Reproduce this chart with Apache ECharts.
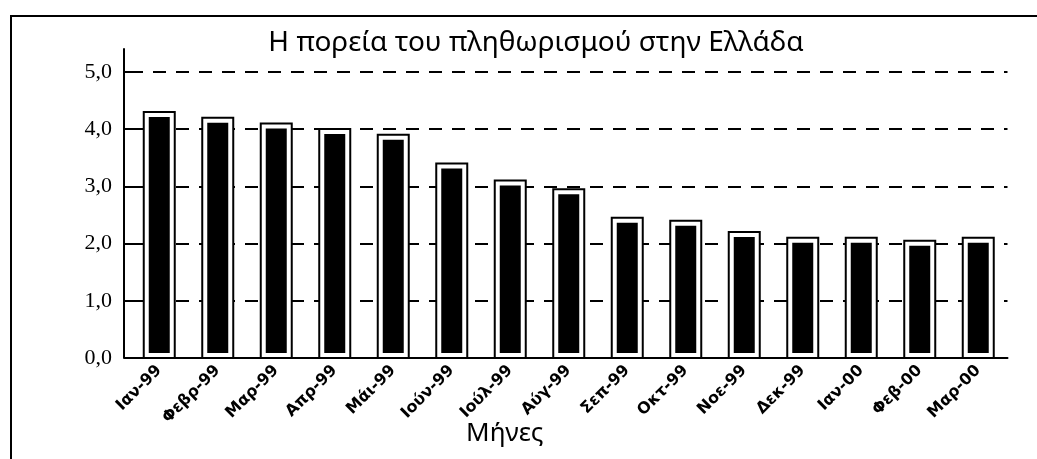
<!DOCTYPE html>
<html>
<head>
<meta charset="utf-8">
<script src="https://cdn.jsdelivr.net/npm/echarts@6/dist/echarts.min.js"></script>
<style>
  html, body { margin: 0; padding: 0; background: #fff; }
  #frame {
    position: absolute; left: 10px; top: 15px; right: 0; bottom: 0;
    border-top: 2px solid #000; border-left: 2px solid #000;
  }
  #chart { position: absolute; left: 0; top: 0; width: 1037px; height: 459px; }
</style>
</head>
<body>
<div id="frame"></div>
<div id="chart"></div>
<script>
// μήνες
const months = ["Ιαν-99", "Φεβρ-99", "Μαρ-99", "Απρ-99", "Μάι-99", "Ιούν-99", "Ιούλ-99", "Αύγ-99",
  "Σεπ-99", "Οκτ-99", "Νοε-99", "Δεκ-99", "Ιαν-00", "Φεβ-00", "Μαρ-00"]
// πληθωρισμός (%)
const inflation = [4.3, 4.2, 4.1, 4.0, 3.9, 3.4, 3.1, 2.95, 2.45, 2.4, 2.2, 2.1, 2.1, 2.05, 2.1]
const yTicks = [0, 1, 2, 3, 4, 5]

const chart = echarts.init(document.getElementById("chart"))

// bar = white box with black outline, black block inside
const renderBar = (params, api) => {
  const top = api.coord([api.value(0), api.value(1)])
  const base = api.coord([api.value(0), 0])
  const w = 31
  const pad = 5
  const h = base[1] - top[1]
  return {
    type: "group",
    children: [
      {
        type: "rect",
        shape: { x: top[0] - w / 2, y: top[1], width: w, height: h },
        style: { fill: "#fff", stroke: "#000", lineWidth: 2 },
      },
      {
        type: "rect",
        shape: { x: top[0] - w / 2 + pad, y: top[1] + pad, width: w - pad * 2, height: h - pad * 2 },
        style: { fill: "#000" },
      },
    ],
  }
}

const option = {
  animation: false,
  title: {
    text: "Η πορεία του πληθωρισμού στην Ελλάδα",
    left: 531,
    textAlign: "center",
    top: 24,
    textStyle: { fontFamily: "Noto Sans", fontSize: 28, fontWeight: "normal", color: "#000" },
  },
  grid: { left: 130, right: 29.5, top: 49, bottom: 101, outerBoundsMode: "none" },
  xAxis: {
    type: "category",
    data: months,
    z: 5,
    name: "Μήνες",
    nameLocation: "middle",
    nameGap: 63,
    nameMoveOverlap: false,
    nameTextStyle: { fontFamily: "Noto Sans", fontSize: 26, color: "#000", padding: [0, 128, 0, 0] },
    axisLine: { lineStyle: { color: "#000", width: 2 } },
    axisTick: { show: false },
    axisLabel: {
      rotate: 45,
      margin: 10,
      color: "#000",
      fontFamily: "DejaVu Sans",
      fontWeight: "bold",
      fontSize: 16,
    },
  },
  yAxis: {
    type: "value",
    min: yTicks[0],
    max: 5.4,
    interval: 1,
    offset: 6,
    axisLine: { show: true, lineStyle: { color: "#000", width: 2 } },
    axisTick: { show: true, inside: true, length: 6, lineStyle: { color: "#000", width: 2 } },
    axisLabel: {
      showMaxLabel: false,
      margin: 12,
      color: "#000",
      fontFamily: "Liberation Serif",
      fontSize: 22,
      formatter: (v) => (yTicks.includes(v) ? v.toFixed(1).replace(".", ",") : ""),
    },
    splitLine: {
      show: true,
      showMaxLine: false,
      lineStyle: { color: "#000", width: 2, type: [13, 10] },
    },
  },
  series: [
    {
      type: "custom",
      renderItem: renderBar,
      data: inflation.map((v, i) => [i, v]),
      encode: { x: 0, y: 1 },
    },
  ],
}

chart.setOption(option)
</script>
</body>
</html>
